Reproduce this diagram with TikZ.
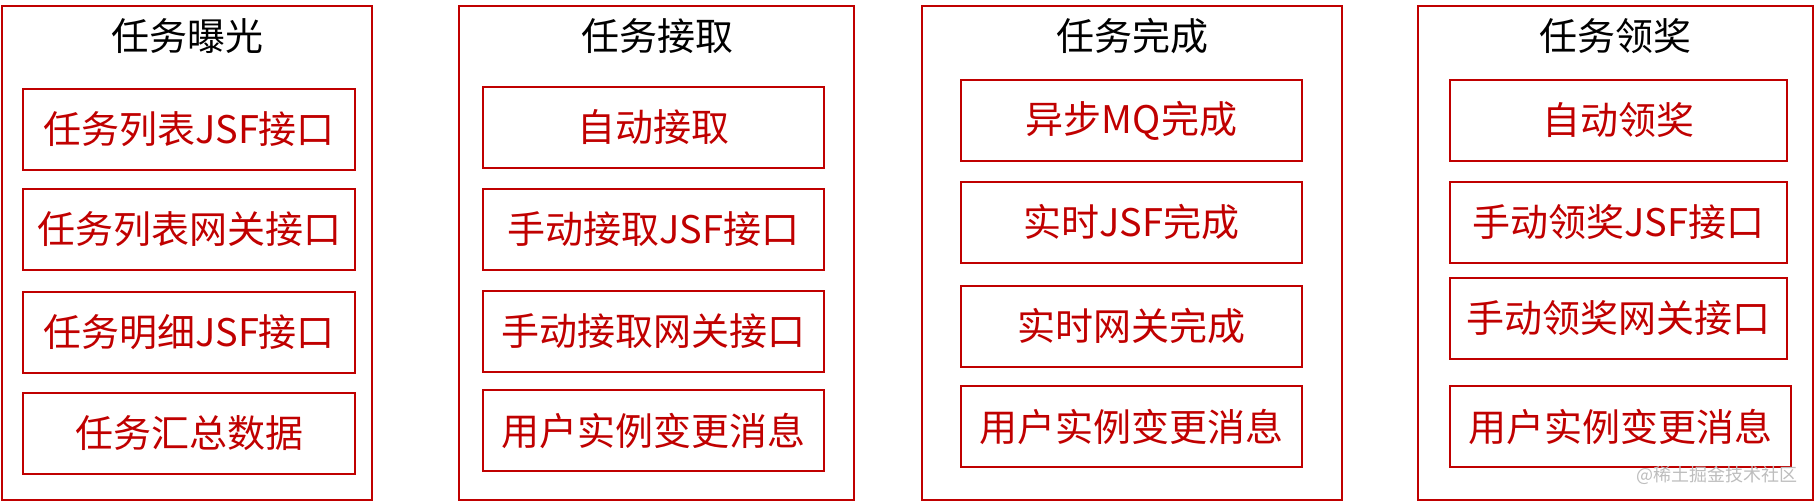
\documentclass[tikz,border=0pt]{standalone}
\usepackage{fontspec}
\setmainfont{Noto Sans CJK SC}
\usetikzlibrary{positioning}
\definecolor{taskred}{HTML}{C00000}
\definecolor{markgray}{HTML}{BDBDBD}
\tikzset{x=0.5pt, y=-0.5pt,
  stage/.style = {draw=taskred, line width=1pt, inner sep=0pt,
    minimum height=247pt},%
  stagetitle/.style = {font=\fontsize{19}{19}\selectfont, text=black},%
  item/.style = {draw=taskred, line width=1pt, inner sep=0pt,
    minimum height=40.5pt, text=taskred, font=\fontsize{19}{19}\selectfont}}

\begin{document}
\begin{tikzpicture}
    \useasboundingbox (0,0) rectangle (1814,502);
    % outer stages
    \node[stage, minimum width=185pt] (expo) at (186.5,253) {};
    \node[stage, minimum width=197.5pt] (take) at (656.5,253) {};
    \node[stage, minimum width=210pt] (done) at (1132,253) {};
    \node[stage, minimum width=197.5pt] (award) at (1615.5,253) {};
    \node[stagetitle] (expot) at (187,36.5) {任务曝光};
    \node[stagetitle] (taket) at (657,36.5) {任务接取};
    \node[stagetitle] (donet) at (1132,36.5) {任务完成};
    \node[stagetitle] (awardt) at (1615,36.5) {任务领奖};
    % exposure
    \node[item, minimum width=166pt] (expo1) at (189,129.5) {任务列表JSF接口};
    \node[item, minimum width=166pt] (expo2) at (189,229.5) {任务列表网关接口};
    \node[item, minimum width=166pt] (expo3) at (189,332.5) {任务明细JSF接口};
    \node[item, minimum width=166pt] (expo4) at (189,433.5) {任务汇总数据};
    % accept
    \node[item, minimum width=170.5pt] (take1) at (653.5,127.5) {自动接取};
    \node[item, minimum width=170.5pt] (take2) at (653.5,229.5) {手动接取JSF接口};
    \node[item, minimum width=170.5pt] (take3) at (653.5,331.5) {手动接取网关接口};
    \node[item, minimum width=170.5pt] (take4) at (653.5,430.5) {用户实例变更消息};
    % finish
    \node[item, minimum width=170.5pt] (done1) at (1131.5,120.5) {异步MQ完成};
    \node[item, minimum width=170.5pt] (done2) at (1131.5,222.5) {实时JSF完成};
    \node[item, minimum width=170.5pt] (done3) at (1131.5,326.5) {实时网关完成};
    \node[item, minimum width=170.5pt] (done4) at (1131.5,426.5) {用户实例变更消息};
    % reward
    \node[item, minimum width=168.5pt] (award1) at (1618.5,120.5) {自动领奖};
    \node[item, minimum width=168.5pt] (award2) at (1618.5,222.5) {手动领奖JSF接口};
    \node[item, minimum width=168.5pt] (award3) at (1618.5,318.5) {手动领奖网关接口};
    \node[item, minimum width=170.5pt] (award4) at (1620.5,426.5) {用户实例变更消息};
    \node[text=markgray, font=\fontsize{9}{9}\selectfont] (mark) at (1717,475) {@稀土掘金技术社区};
\end{tikzpicture}
\end{document}
